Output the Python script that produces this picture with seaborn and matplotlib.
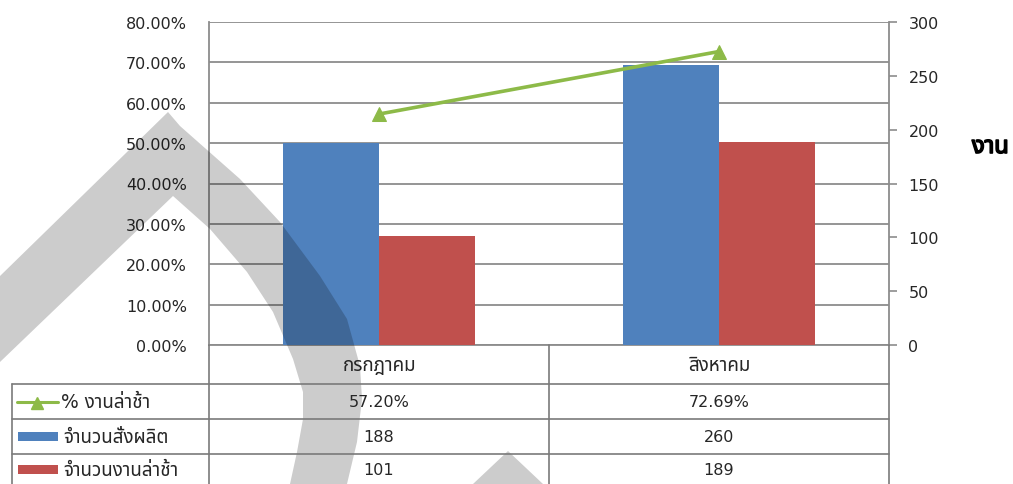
import numpy as np
import pandas as pd
import matplotlib
matplotlib.use("Agg")
import matplotlib.pyplot as plt
import seaborn as sns
from matplotlib import font_manager, ft2font
from matplotlib import patheffects as pe
from matplotlib.patches import Polygon, Rectangle
from matplotlib.lines import Line2D
from matplotlib.ticker import FixedLocator, FixedFormatter

# ---------------- data ----------------
months = ["กรกฎาคม", "สิงหาคม"]
pct_late = [0.5720, 0.7269]
orders = [188, 260]
late_jobs = [101, 189]
series_names = ["% งานล่าช้า", "จำนวนสั่งผลิต", "จำนวนงานล่าช้า"]
pct_ticks = [0.0, 0.1, 0.2, 0.3, 0.4, 0.5, 0.6, 0.7, 0.8]
count_ticks = [0, 50, 100, 150, 200, 250, 300]
side_label = "งาน"

# ---------------- style ----------------
BLUE = "#4F81BD"
RED = "#C0504D"
GREEN = "#8DBA48"
GRID = "#8C8C8C"
TXT = "#262626"


def find_thai_family():
    found = []
    for f in font_manager.fontManager.ttflist:
        try:
            cm = ft2font.FT2Font(f.fname).get_charmap()
        except Exception:
            continue
        if 0x0E07 in cm and 0x0E32 in cm and 0x0E01 in cm:
            found.append(f.name)
    pref = ["Noto Sans Thai", "Noto Sans Thai UI", "Tahoma", "Loma", "Garuda", "Sarabun"]
    for p in pref:
        if p in found:
            return p
    return found[0] if found else None


sns.set_theme(style="white")
thai = find_thai_family()
fams = ["DejaVu Sans"] + ([thai] if thai else [])
plt.rcParams["font.family"] = fams

W, H = 1013, 485
fig = plt.figure(figsize=(W / 100, H / 100), dpi=100)

L, R, T, B = 209, 889, 23, 346
ax = fig.add_axes([L / W, 1 - B / H, (R - L) / W, (B - T) / H])
ax2 = ax.twinx()

# bars on the count (right) axis
df = pd.DataFrame({
    "month": months * 2,
    "series": [series_names[1]] * len(months) + [series_names[2]] * len(months),
    "value": orders + late_jobs,
})
sns.barplot(data=df, x="month", y="value", hue="series", palette=[BLUE, RED],
            width=0.565, gap=0, saturation=1, ax=ax2, legend=False,
            linewidth=0, edgecolor="none")

# line on a third (percentage) axis drawn above bars
ax3 = ax.twinx()
sns.lineplot(x=months, y=pct_late, ax=ax3, color=GREEN, lw=2.6, marker="^",
             markersize=10, markeredgecolor=GREEN, sort=False)

for a in (ax, ax2, ax3):
    a.set_xlim(-0.5, len(months) - 0.5)
    a.set_xlabel("")
    a.set_ylabel("")
ax.set_ylim(0, 0.8)
ax3.set_ylim(0, 0.8)
ax2.set_ylim(0, 300)

# left axis
ax.yaxis.set_major_locator(FixedLocator(pct_ticks))
ax.yaxis.set_major_formatter(FixedFormatter([f"{v:.2%}" for v in pct_ticks]))
ax.tick_params(axis="y", length=0, pad=16, labelsize=11.5, labelcolor=TXT)
ax.yaxis.grid(True, color=GRID, lw=1.3)
ax.set_axisbelow(True)
ax.set_xticks([])
for s in ["top", "right"]:
    ax.spines[s].set_visible(False)
for s in ["left", "bottom"]:
    ax.spines[s].set_color(GRID)
    ax.spines[s].set_linewidth(1.3)

# right axis
ax2.yaxis.set_major_locator(FixedLocator(count_ticks))
ax2.yaxis.set_major_formatter(FixedFormatter([str(v) for v in count_ticks]))
ax2.tick_params(axis="y", right=True, length=6, width=1.2, color=GRID, pad=8,
                labelsize=11.5, labelcolor=TXT)
ax2.set_xticks([])
for s in ["top", "left", "bottom"]:
    ax2.spines[s].set_visible(False)
ax2.spines["right"].set_color(GRID)
ax2.spines["right"].set_linewidth(1.3)
ax2.grid(False)

ax3.axis("off")

# ---------------- data table (overlay in pixel coords) ----------------
ov = fig.add_axes([0, 0, 1, 1], zorder=5)
ov.set_xlim(0, W)
ov.set_ylim(H, 0)
ov.axis("off")

n = len(months)
colw = (R - L) / n
TL = 12
row_edges = [385, 420, 455, 490]
lc = "#7A7A7A"
for y in row_edges[:-1]:
    ov.plot([TL, R], [y, y], color=lc, lw=1.2)
for i in range(n + 1):
    x = L + i * colw
    ov.plot([x, x], [B, H], color=lc, lw=1.2)
ov.plot([TL, TL], [row_edges[0], H], color=lc, lw=1.2)

fs = 11.5
fs_th = 13.5
for i, m in enumerate(months):
    cx = L + (i + 0.5) * colw
    ov.text(cx, (B + row_edges[0]) / 2, m, ha="center", va="center", fontsize=fs_th, color=TXT)
    ov.text(cx, (row_edges[0] + row_edges[1]) / 2, f"{pct_late[i]:.2%}", ha="center",
            va="center", fontsize=fs, color=TXT)
    ov.text(cx, (row_edges[1] + row_edges[2]) / 2, f"{orders[i]}", ha="center",
            va="center", fontsize=fs, color=TXT)
    ov.text(cx, (row_edges[2] + row_edges[3]) / 2 - 2, f"{late_jobs[i]}", ha="center",
            va="center", fontsize=fs, color=TXT)

# legend keys in the table
y1 = (row_edges[0] + row_edges[1]) / 2
y2 = (row_edges[1] + row_edges[2]) / 2
y3 = (row_edges[2] + row_edges[3]) / 2 - 2
ov.add_line(Line2D([17, 58], [y1, y1], color=GREEN, lw=2.2))
ov.add_line(Line2D([37], [y1 + 1], color=GREEN, marker="^", markersize=8))
ov.add_patch(Rectangle((18, y2 - 4.5), 40, 9, color=BLUE, lw=0))
ov.add_patch(Rectangle((18, y3 - 4.5), 40, 9, color=RED, lw=0))
ov.text(61, y1, series_names[0], ha="left", va="center", fontsize=fs_th, color=TXT)
ov.text(63, y2, series_names[1], ha="left", va="center", fontsize=fs_th, color=TXT)
ov.text(63, y3, series_names[2], ha="left", va="center", fontsize=fs_th, color=TXT)

# side label (bold look)
ov.text(972, 147, side_label, ha="left", va="center", fontsize=17, fontweight="bold",
        color="black", path_effects=[pe.withStroke(linewidth=1.2, foreground="black")])

# translucent watermark strokes
wm1 = [(168, 113), (0, 277), (0, 363), (173, 197), (210, 230), (247, 273), (273, 313),
       (293, 360), (303, 393), (303, 420), (297, 453), (290, 485), (347, 485),
       (357, 443), (362, 400), (360, 367), (347, 320), (320, 277), (280, 223),
       (240, 180), (180, 127)]
ov.add_patch(Polygon(wm1, closed=True, facecolor="black", alpha=0.2, lw=0))
wm2 = [(473, 485), (508, 452), (543, 485)]
ov.add_patch(Polygon(wm2, closed=True, facecolor="black", alpha=0.2, lw=0))

fig.savefig("out.png", dpi=100)
